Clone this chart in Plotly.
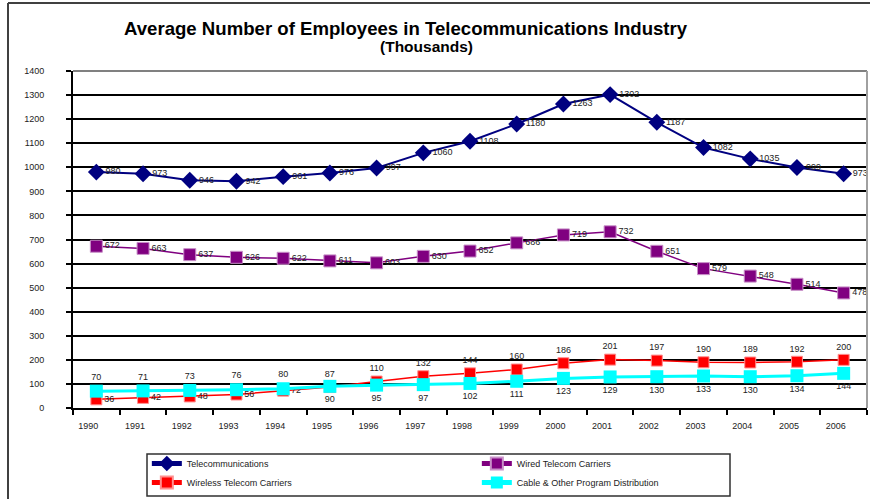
import plotly.graph_objects as go

# Annual averages, thousands of employees
years = [str(y) for y in range(1990, 2007)]
telecom = [980, 973, 946, 942, 961, 976, 997, 1060, 1108, 1180, 1263, 1302, 1187, 1082, 1035, 999, 973]
wired = [672, 663, 637, 626, 622, 611, 603, 630, 652, 686, 719, 732, 651, 579, 548, 514, 478]
wireless = [36, 42, 48, 56, 72, 87, 110, 132, 144, 160, 186, 201, 197, 190, 189, 192, 200]
cable = [70, 71, 73, 76, 80, 90, 95, 97, 102, 111, 123, 129, 130, 133, 130, 134, 144]
y_ticks = list(range(0, 1401, 100))

FONT = "Arial, Liberation Sans, sans-serif"
LABEL_FONT = dict(family=FONT, size=9, color="#222222")

# Label placement: the two small series swap sides where their lines cross
wireless_pos = ["middle right"] * 5 + ["top center"] * 12
cable_pos = ["top center"] * 5 + ["bottom center"] * 12

fig = go.Figure()
fig.add_trace(go.Scatter(
    x=years, y=telecom, name="Telecommunications", mode="lines+markers+text",
    line=dict(color="#000080", width=2),
    marker=dict(symbol="diamond", size=13, color="#000080"),
    text=[str(v) for v in telecom], textposition="middle right", textfont=LABEL_FONT,
))
fig.add_trace(go.Scatter(
    x=years, y=wired, name="Wired Telecom Carriers", mode="lines+markers+text",
    line=dict(color="#800080", width=1.5),
    marker=dict(symbol="square", size=12, color="#800080", line=dict(color="#c890c8", width=1)),
    text=[str(v) for v in wired], textposition="middle right", textfont=LABEL_FONT,
))
fig.add_trace(go.Scatter(
    x=years, y=wireless, name="Wireless Telecom Carriers", mode="lines+markers+text",
    line=dict(color="#ff0000", width=1.5),
    marker=dict(symbol="square", size=11, color="#ff0000", line=dict(color="#ff9090", width=1)),
    text=[str(v) for v in wireless], textposition=wireless_pos, textfont=LABEL_FONT,
))
fig.add_trace(go.Scatter(
    x=years, y=cable, name="Cable & Other Program Distribution", mode="lines+markers+text",
    line=dict(color="#00ffff", width=3),
    marker=dict(symbol="square", size=13, color="#00ffff"),
    text=[str(v) for v in cable], textposition=cable_pos, textfont=LABEL_FONT,
))

fig.update_layout(
    width=870, height=499,
    margin=dict(l=73, r=3, t=71, b=91, autoexpand=False),
    paper_bgcolor="white", plot_bgcolor="white",
    font=dict(family=FONT, size=9, color="#222222"),
    showlegend=True,
    legend=dict(
        orientation="h", x=0.093, y=-(449 - 408) / 337, xanchor="left", yanchor="top",
        entrywidth=285, entrywidthmode="pixels", itemsizing="constant",
        font=dict(family=FONT, size=9, color="#222222"),
        bgcolor="rgba(0,0,0,0)", borderwidth=0,
    ),
    xaxis=dict(
        type="category", range=[-0.5, 16.5],
        showgrid=False, showline=True, linecolor="black", linewidth=2,
        ticks="outside", tickson="boundaries", ticklen=5, tickwidth=2, tickcolor="black",
        tickfont=dict(family=FONT, size=9, color="#222222"),
        ticklabelstandoff=8, ticklabelshift=-8,
        zeroline=False,
    ),
    yaxis=dict(
        range=[0, 1400], tickvals=y_ticks,
        showgrid=True, gridcolor="black", gridwidth=2,
        showline=True, linecolor="black", linewidth=2,
        ticks="outside", ticklen=5, tickwidth=2, tickcolor="black",
        tickfont=dict(family=FONT, size=9, color="#222222"),
        ticklabelstandoff=20,
        zeroline=False,
    ),
    annotations=[
        dict(text="<b>Average Number of Employees in Telecommunications Industry</b>",
             xref="paper", yref="paper", x=(406 - 73) / 794, y=1 + (71 - 29) / 337,
             xanchor="center", yanchor="middle", showarrow=False,
             font=dict(family=FONT, size=18.6, color="black")),
        dict(text="<b>(Thousands)</b>",
             xref="paper", yref="paper", x=(426 - 73) / 794, y=1 + (71 - 47) / 337,
             xanchor="center", yanchor="middle", showarrow=False,
             font=dict(family=FONT, size=15.5, color="black")),
    ],
    shapes=[
        # plot frame: top and right edges in grey
        dict(type="line", xref="paper", yref="paper", x0=0, x1=1, y0=1, y1=1,
             line=dict(color="#808080", width=2), layer="above"),
        dict(type="line", xref="paper", yref="paper", x0=1, x1=1, y0=0, y1=1,
             line=dict(color="#a0a0a0", width=2), layer="above"),
        # outer chart border
        dict(type="line", xref="paper", yref="paper",
             x0=(8 - 73) / 794, x1=(8 - 73) / 794, y0=-(499 - 408) / 337, y1=1 + (71 - 3) / 337,
             line=dict(color="#404040", width=2), layer="above"),
        dict(type="line", xref="paper", yref="paper",
             x0=(8 - 73) / 794, x1=(870 - 73) / 794, y0=1 + (71 - 3) / 337, y1=1 + (71 - 3) / 337,
             line=dict(color="#404040", width=2), layer="above"),
        # legend box
        dict(type="rect", xref="paper", yref="paper",
             x0=(147 - 73) / 794, x1=(730 - 73) / 794,
             y0=-(496 - 408) / 337, y1=-(454 - 408) / 337,
             line=dict(color="#303030", width=1.5), fillcolor="rgba(0,0,0,0)", layer="above"),
    ],
)

fig.write_html("out.html")
